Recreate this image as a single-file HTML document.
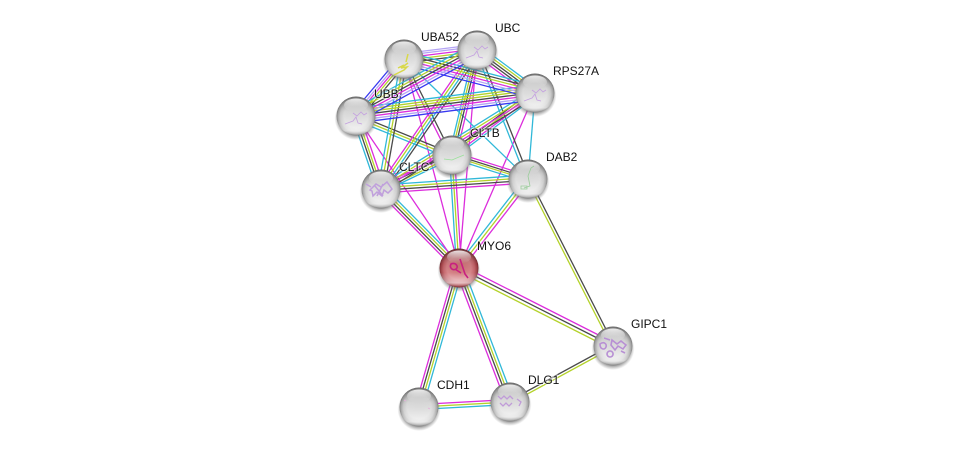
<!DOCTYPE html>
<html><head><meta charset="utf-8"><style>
html,body{margin:0;padding:0;background:#fff}
svg{display:block}
path{fill:none;stroke-width:1.3}
.m{stroke:#dc2ddc}.k{stroke:#4a4a4a}.y{stroke:#b4d22a}.c{stroke:#30b8d8}.b{stroke:#3838f0}.l{stroke:#b4a4f4}
text{font:12px "Liberation Sans",sans-serif;fill:#111;paint-order:stroke;stroke:#fff;stroke-width:2px;stroke-opacity:.55}
.s path{stroke-width:.8}
</style></head><body>
<svg width="976" height="452" viewBox="0 0 976 452" xmlns="http://www.w3.org/2000/svg">
<defs>
<radialGradient id="g" cx=".5" cy=".5" r=".5"><stop offset="0" stop-color="#dedede"/><stop offset=".62" stop-color="#e0e0e0"/><stop offset=".8" stop-color="#cdcdcd"/><stop offset=".93" stop-color="#a2a2a2"/><stop offset="1" stop-color="#787878"/></radialGradient>
<radialGradient id="r" cx=".5" cy=".5" r=".5"><stop offset="0" stop-color="#c9686c"/><stop offset=".62" stop-color="#d27a7e"/><stop offset=".8" stop-color="#c05a60"/><stop offset=".93" stop-color="#98343a"/><stop offset="1" stop-color="#6e1a20"/></radialGradient>
<linearGradient id="v" x1="0" y1="0" x2="0" y2="1"><stop offset="0" stop-color="#444" stop-opacity=".45"/><stop offset=".4" stop-color="#777" stop-opacity=".08"/><stop offset=".62" stop-color="#fff" stop-opacity=".1"/><stop offset=".88" stop-color="#fff" stop-opacity=".6"/><stop offset="1" stop-color="#fff" stop-opacity="0"/></linearGradient>
<linearGradient id="t" x1="0" y1="0" x2="0" y2="1"><stop offset="0" stop-color="#fff" stop-opacity=".85"/><stop offset=".6" stop-color="#fff" stop-opacity=".2"/><stop offset="1" stop-color="#fff" stop-opacity="0"/></linearGradient>
<radialGradient id="sh"><stop offset=".78" stop-color="#666" stop-opacity=".7"/><stop offset="1" stop-color="#888" stop-opacity="0"/></radialGradient>
<g id="n"><circle cy="2.500" r="21.500" fill="url(#sh)"/><circle r="19.500" fill="url(#g)"/><circle r="19.500" fill="url(#v)"/><ellipse cy="-11" rx="12" ry="6.500" fill="url(#t)"/></g>
<g id="nr"><circle cy="2.500" r="21.500" fill="url(#sh)"/><circle r="19.500" fill="url(#r)"/><circle r="19.500" fill="url(#v)"/><ellipse cy="-11" rx="12" ry="6.500" fill="url(#t)"/></g>
</defs>

<!-- lower edges -->
<path class="m" d="M455 268L415 407"/><path class="k" d="M457.700 268L417.700 407"/><path class="y" d="M460.300 268L420.300 407"/><path class="c" d="M463 268L423 407"/>
<path class="m" d="M455 269L506 403"/><path class="k" d="M457.700 268L508.700 402"/><path class="y" d="M460.300 268L511.300 402"/><path class="c" d="M463 267L514 401"/>
<path class="m" d="M460.300 265L614.300 343"/><path class="k" d="M459 268L613 346"/><path class="y" d="M457.700 271L611.700 349"/>
<path class="k" d="M529.500 179L614.500 346"/><path class="y" d="M526.500 179L611.500 346"/>
<path class="k" d="M510 400.500L613 344.500"/><path class="y" d="M510 403.500L613 347.500"/>
<path class="m" d="M419 404.500L510 399.500"/><path class="y" d="M419 407L510 402"/><path class="c" d="M419 409.500L510 404.500"/>
<!-- MYO6 upper edges -->
<path class="c" d="M456.600 266.200L525.600 177.200"/><path class="y" d="M459 268L528 179"/><path class="m" d="M461.400 269.800L530.400 180.800"/>
<path class="c" d="M461.700 265.300L383.700 186.300"/><path class="y" d="M459.900 267.100L381.900 188.100"/><path class="k" d="M458.100 268.900L380.100 189.900"/><path class="m" d="M456.300 270.700L378.300 191.700"/>
<path class="c" d="M456.500 268L449.500 155"/><path class="y" d="M459 268L452 155"/><path class="m" d="M461.500 268L454.500 155"/>
<path class="m" d="M459 268L356 116"/><path class="m" d="M459 268L404 59"/><path class="m" d="M459 268L477 50"/><path class="m" d="M459 268L535 93"/>
<!-- cluster: DAB2 edges -->
<path class="m" d="M452 151.500L528 175.500"/><path class="k" d="M452 154L528 178"/><path class="y" d="M452 156L528 180"/><path class="c" d="M452 158.500L528 182.500"/>
<path class="c" d="M381 185L528 175"/><path class="y" d="M381 187.700L528 177.700"/><path class="k" d="M381 190.300L528 180.300"/><path class="m" d="M381 193L528 183"/>
<path class="c" d="M404 59L528 179"/>
<path class="c" d="M475.500 50.500L526.500 179.500"/><path class="k" d="M478.500 49.500L529.500 178.500"/>
<path class="c" d="M535 93L528 179"/>
<!-- CLTC / CLTB edges -->
<path class="m" d="M378.500 186.500L449.500 152.500"/><path class="k" d="M380 188L451 154"/><path class="y" d="M382 190L453 156"/><path class="c" d="M383.500 191.500L454.500 157.500"/>
<path class="k" d="M356 114.500L452 153.500"/><path class="y" d="M355 117L451 156"/><path class="c" d="M354 119.500L450 158.500"/>
<path class="c" d="M352.500 117.500L377.500 190.500"/><path class="k" d="M355 116.500L380 189.500"/><path class="y" d="M357 115.500L382 188.500"/><path class="m" d="M359.500 114.500L384.500 187.500"/>
<path class="k" d="M404 59L452 155"/><path class="m" d="M401 60L449 156"/>
<path class="c" d="M401 58.500L378 188.500"/><path class="y" d="M404 59L381 189"/><path class="k" d="M407 59.500L384 189.500"/>
<path class="c" d="M474.500 48.500L449.500 153.500"/><path class="y" d="M476.500 49.500L451.500 154.500"/><path class="k" d="M478.500 50.500L453.500 155.500"/><path class="m" d="M481 51L456 156"/>
<path class="m" d="M474.500 47.500L378.500 186.500"/><path class="y" d="M476.500 49L380.500 188"/><path class="c" d="M478.500 51L382.500 190"/><path class="k" d="M480.500 52.500L384.500 191.500"/>
<path class="k" d="M532.800 90.500L449.800 152.500"/><path class="y" d="M534.300 92L451.300 154"/><path class="m" d="M535.800 94L452.800 156"/><path class="c" d="M537.300 95.500L454.300 157.500"/>
<path class="c" d="M532.500 90L378.500 186"/><path class="y" d="M534.200 92L380.200 188"/><path class="m" d="M535.800 94L381.800 190"/><path class="k" d="M537.500 96L383.500 192"/>
<!-- ubiquitin clique -->
<path class="b" d="M352.500 113L400.500 56"/><path class="l" d="M354.500 114.500L402.500 57.500"/><path class="m" d="M356 116L404 59"/><path class="y" d="M357.500 117.500L405.500 60.500"/><path class="k" d="M359.500 119L407.500 62"/>
<path class="l" d="M404 53.500L477 44.500"/><path class="l" d="M404 55.500L477 46.500"/><path class="m" d="M404 58L477 49"/><path class="y" d="M404 60.500L477 51.500"/><path class="k" d="M404 63L477 54"/>
<path class="c" d="M480 46L538 89"/><path class="y" d="M478.500 48L536.500 91"/><path class="k" d="M477 50L535 93"/><path class="k" d="M475.500 52L533.500 95"/><path class="m" d="M474 54L532 97"/>
<path class="c" d="M356 108L535 85"/><path class="y" d="M356 110.500L535 87.500"/><path class="y" d="M356 113L535 90"/><path class="k" d="M356 115.500L535 92.500"/><path class="m" d="M356 118L535 95"/><path class="l" d="M356 120.500L535 97.500"/><path class="b" d="M356 123L535 100"/>
<path class="c" d="M406 52L537 86"/><path class="k" d="M405.500 54.500L536.500 88.500"/><path class="y" d="M405 57L536 91"/><path class="m" d="M404 59.500L535 93.500"/><path class="l" d="M403.500 62L534.500 96"/><path class="b" d="M403 64.500L534 98.500"/>
<path class="c" d="M473 44L352 110"/><path class="y" d="M474.300 46.300L353.300 112.300"/><path class="k" d="M475.500 48.700L354.500 114.700"/><path class="m" d="M476.700 51L355.700 117"/><path class="l" d="M478 53.300L357 119.300"/><path class="b" d="M479.200 55.700L358.200 121.700"/>

<!-- nodes -->
<use href="#n" transform="translate(404 59)"/>
<use href="#n" transform="translate(477 50)"/>
<use href="#n" transform="translate(535 93)"/>
<use href="#n" transform="translate(356 116)"/>
<use href="#n" transform="translate(452 155)"/>
<use href="#n" transform="translate(381 189)"/>
<use href="#n" transform="translate(528 179)"/>
<use href="#nr" transform="translate(459 268)"/>
<use href="#n" transform="translate(613 346)"/>
<use href="#n" transform="translate(510 402)"/>
<use href="#n" transform="translate(419 407)"/>

<!-- protein glyphs -->
<g class="s">
<path stroke="#d8d84a" style="stroke-width:1.500" d="M394 75l10-5 3-3-6 1 7-5M408 54l-2 8M398 68l6-3"/>
<path stroke="#c4a0e0" d="M474 47l4 3 4-4 3 3 3-2M466 58l8-3 3-4 2 6 4 1"/>
<path stroke="#c4a0e0" d="M532 90l4 3 4-4 3 3 3-2M524 101l8-3 3-4 2 6 4 1"/>
<path stroke="#c4a0e0" d="M353 113l4 3 4-4 3 3 3-2M345 124l8-3 3-4 2 6 4 1"/>
<path stroke="#9ae09a" d="M444 159l8 1 7-3 5-2"/>
<path stroke="#c0a0dc" style="stroke-width:1.500" d="M370 190l6-6 5 3 6-5 5 7-4 4-4-3-2 6-5-4-4 4-1-5zM375 186l8 10M383 184l-6 12M366 184l5 3"/>
<path stroke="#9acc9a" d="M524 188l6-2-2-10 3-8 3-2M521 186h6v3h-6z"/>
<path stroke="#c82080" style="stroke-width:1.600" d="M460 259l1 3 1 3 1 3 1 3 1 3 3 4M451 264c5-2 8 3 5 5s-7-1-5-5zM455 269l6 4"/>
<path stroke="#b890d4" style="stroke-width:1.600" d="M600 344c4-3 7 0 6 3s-6 3-6-3zM612 340l5 4 4-3 5 4-3 4-5-3-3 4-4-5zM604 338l6 2M621 351l4 2M610 351a3 3 0 1 0 .1 0z"/>
<path stroke="#c09cd8" style="stroke-width:1.300" d="M498 396l3 3 3-3 3 3 3-3 3 3M500 403l3 3 3-3 3 3 3-3M517 399l4 3-2 4"/>
<path stroke="#e6b0dc" d="M404 400l2 1M428 408l2 1"/>
</g>

<!-- labels -->
<text x="421" y="41">UBA52</text>
<text x="495" y="32">UBC</text>
<text x="553" y="75">RPS27A</text>
<text x="374" y="98">UBB</text>
<text x="470" y="137">CLTB</text>
<text x="399" y="171">CLTC</text>
<text x="546" y="161">DAB2</text>
<text x="477" y="250">MYO6</text>
<text x="631" y="328">GIPC1</text>
<text x="528" y="384">DLG1</text>
<text x="437" y="389">CDH1</text>
</svg>
</body></html>
